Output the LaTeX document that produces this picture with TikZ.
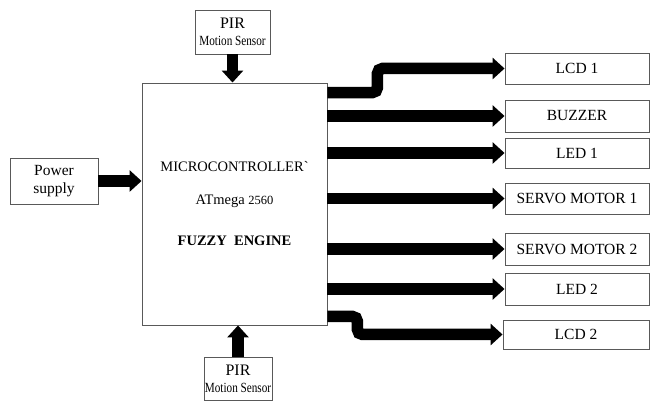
\documentclass[tikz,border=0pt]{standalone}
\usepackage{fontspec}
\setmainfont{Liberation Serif}
\usetikzlibrary{arrows.meta}

\begin{document}
\begin{tikzpicture}[x=1pt,y=-1pt,
    blk/.style={draw=black!65, line width=0.9pt, inner sep=0pt, text centered, align=center, font=\fontsize{15.5}{18}\selectfont},
    outbox/.style={blk, minimum width=144pt, minimum height=31pt},
    bus/.style={line width=11.5pt, -{Triangle[length=12pt,width=21pt]}}]
    \useasboundingbox (0,0) rectangle (651,403);

    \node[blk, minimum width=75pt, minimum height=44pt] at (232.5,32) (pir1) {{\fontsize{16}{16}\selectfont PIR}\\[-1pt]\scalebox{0.8}[1]{\fontsize{14}{14}\selectfont Motion Sensor}};
    \node[blk, minimum width=68pt, minimum height=43pt] at (238,378.5) (pir2) {{\fontsize{16}{16}\selectfont PIR}\\[-1pt]\scalebox{0.8}[1]{\fontsize{14}{14}\selectfont Motion Sensor}};

    \node[blk, minimum width=88pt, minimum height=46pt] at (54,181) (power) {Power\\supply};

    \node[blk, minimum width=185pt, minimum height=242pt, font=\fontsize{14.5}{17}\selectfont] at (234.5,204) (mcu) {MICROCONTROLLER\textasciigrave\\[16pt]ATmega {\fontsize{12.5}{15}\selectfont 2560}\\[24pt]\textbf{FUZZY\ \ ENGINE}};

    \node[outbox] at (577,68.5) (lcd1) {LCD 1};
    \node[outbox, minimum height=32pt] at (577,116) (buzzer) {BUZZER};
    \node[outbox, minimum height=30pt] at (577,153) (led1) {LED 1};
    \node[outbox] at (577,198.5) (servo1) {SERVO MOTOR 1};
    \node[outbox, minimum height=32pt] at (577,249) (servo2) {SERVO MOTOR 2};
    \node[outbox, minimum height=32pt] at (577,289) (led2) {LED 2};
    \node[outbox, minimum width=146pt, minimum height=29pt] at (576,334.5) (lcd2) {LCD 2};

    \draw[bus] (pir1.south) -- (pir1.south |- mcu.north);
    \draw[bus] (pir2.north) -- (pir2.north |- mcu.south);
    \draw[bus] (power.east) -- (power.east -| mcu.west);

    \draw[bus, rounded corners=5pt] ([yshift=-10pt]mcu.north east) -- ++(50,0) |- (lcd1.west);
    \draw[bus] (mcu.east |- buzzer) -- (buzzer.west);
    \draw[bus] (mcu.east |- led1) -- (led1.west);
    \draw[bus] (mcu.east |- servo1) -- (servo1.west);
    \draw[bus] (mcu.east |- servo2) -- (servo2.west);
    \draw[bus] (mcu.east |- led2) -- (led2.west);
    \draw[bus, rounded corners=5pt] ([yshift=9pt]mcu.south east) -- ++(30,0) |- (lcd2.west);
\end{tikzpicture}
\end{document}
